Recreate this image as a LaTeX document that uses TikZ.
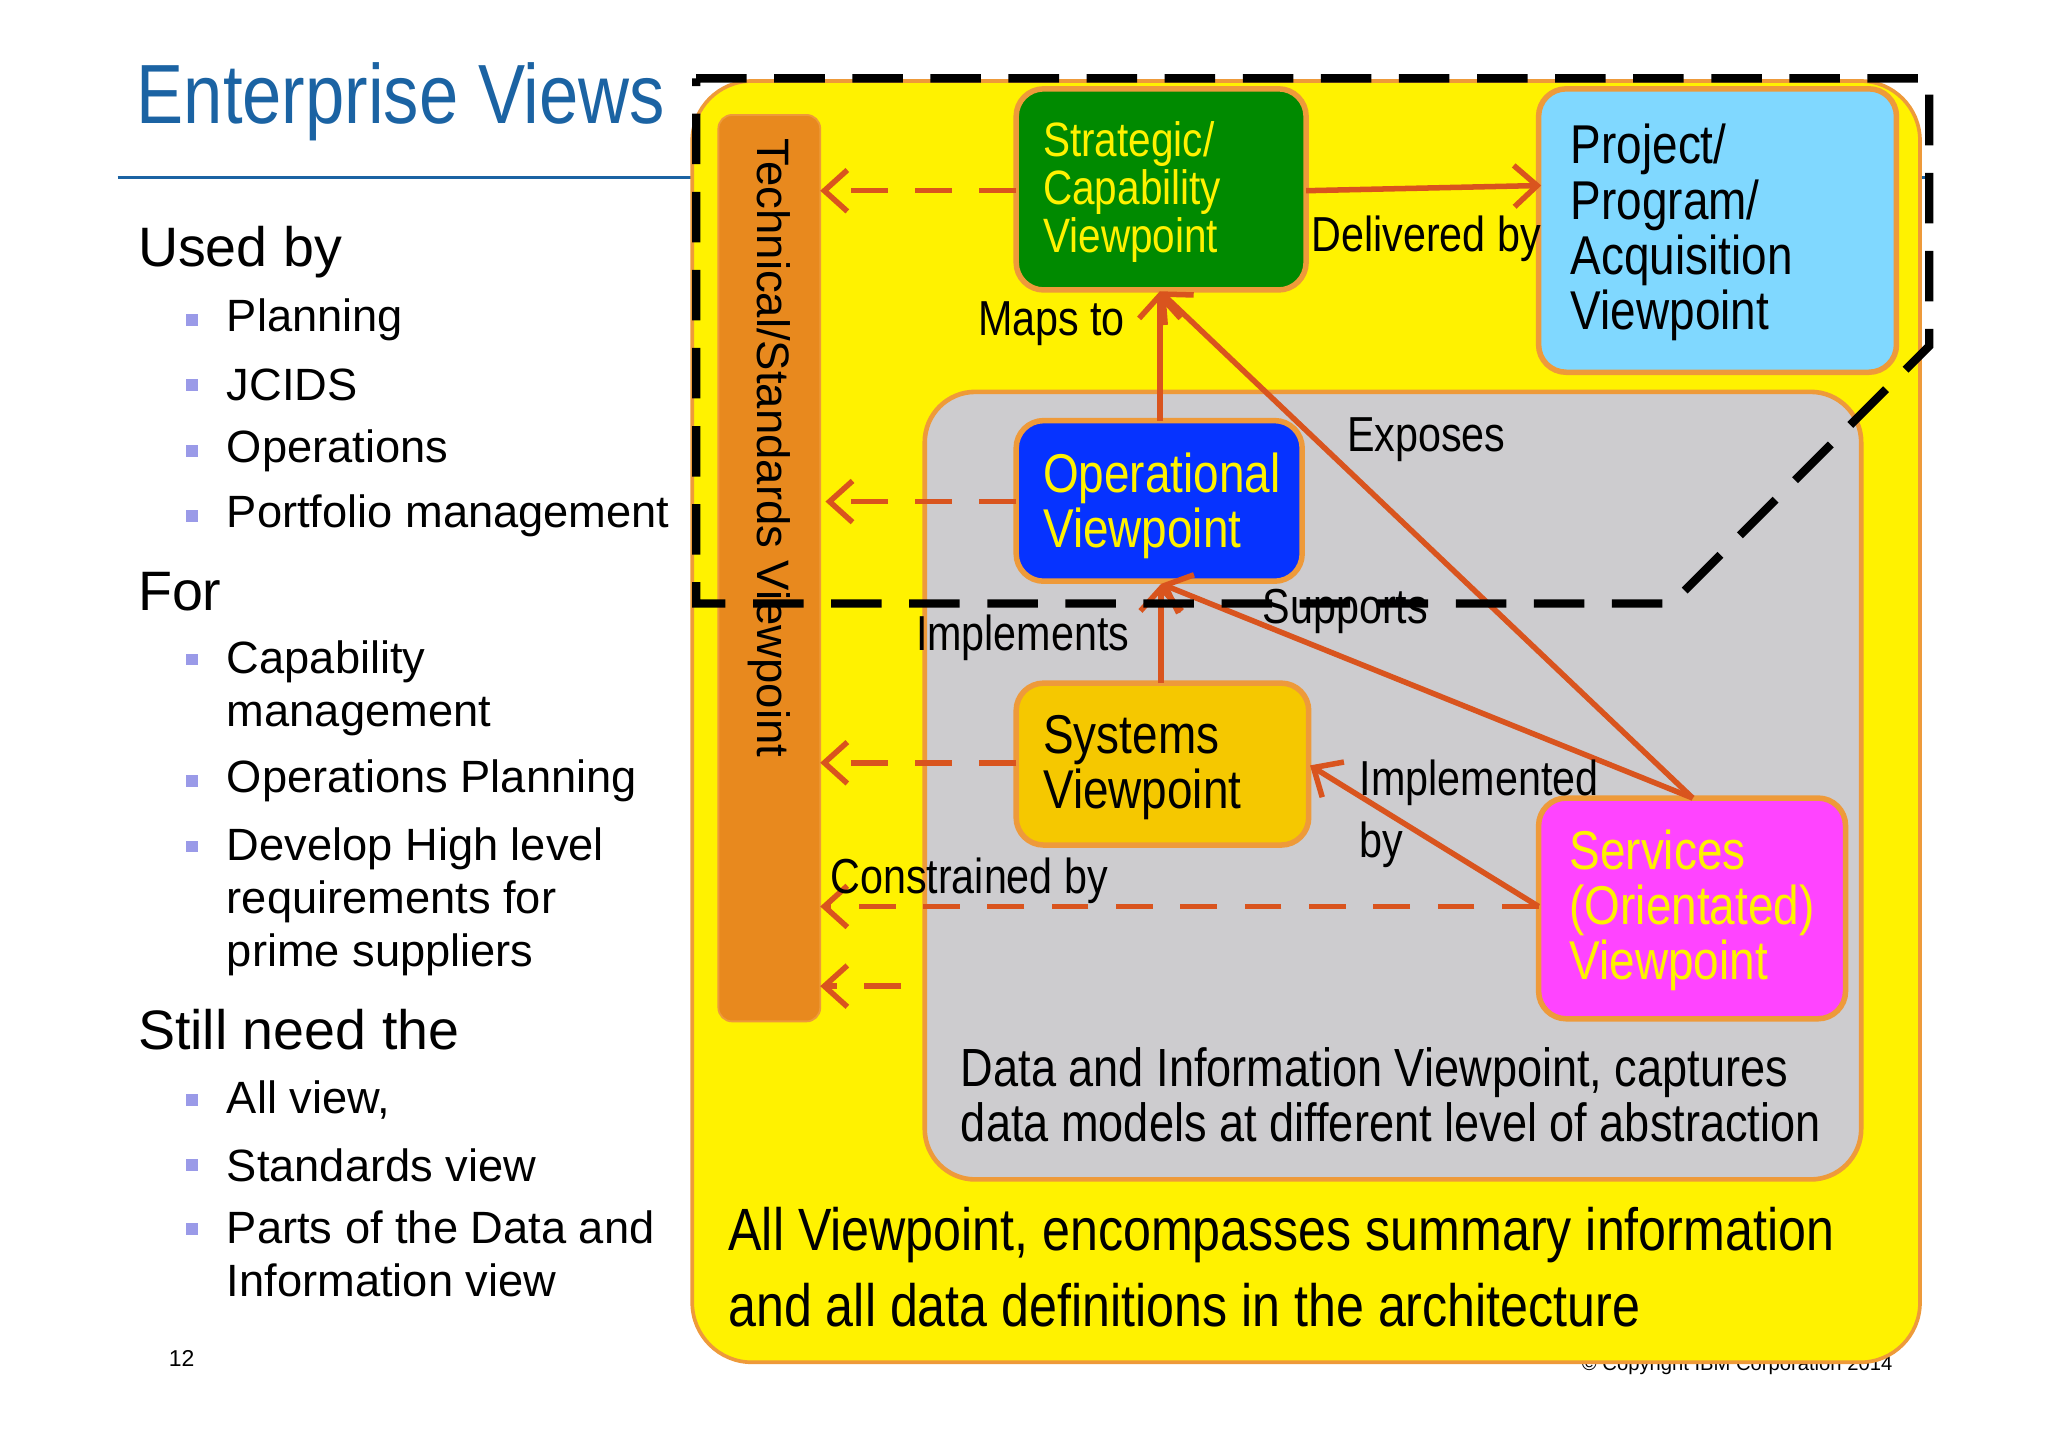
\documentclass[tikz,border=0pt]{standalone}
\usepackage{fontspec}
\setmainfont{Liberation Sans}
\newfontfamily\narrowf[FakeStretch=0.84]{Liberation Sans}
\usetikzlibrary{arrows.meta}
\definecolor{arr}{HTML}{D9541E}
\definecolor{bord}{HTML}{EE9A3A}
\definecolor{ttl}{HTML}{1B63A3}
\definecolor{bul}{HTML}{9A9AE8}
\definecolor{grayb}{HTML}{CDCCCF}
\definecolor{barc}{HTML}{E8891E}
\definecolor{grn}{HTML}{008A00}
\definecolor{lblue}{HTML}{80D8FF}
\definecolor{dblue}{HTML}{0633FF}
\definecolor{gold}{HTML}{F5C800}
\definecolor{mag}{HTML}{FF44FF}
\begin{document}
\begin{tikzpicture}[x=0.01cm,y=-0.01cm,
 box/.style={draw=bord,line width=1.2pt,rounded corners=6pt},
 btxt/.style={align=left,anchor=west,inner sep=0pt,font=\narrowf\fontsize{11.9}{12}\selectfont},
 lbl/.style={font=\narrowf\fontsize{10.7}{12}\selectfont,inner sep=1pt},
 li/.style={anchor=west,align=left,font=\fontsize{9.85}{12}\selectfont,inner sep=0pt},
 hd/.style={anchor=west,font=\fontsize{12.1}{14}\selectfont,inner sep=0pt},
 bu/.style={fill=bul,minimum size=0.09cm,inner sep=0pt},
 sa/.style={draw=arr,line width=1.2pt,-{Straight Barb[length=5pt,width=9pt]}},
 da/.style={sa,dash pattern=on 8pt off 6pt}]
\useasboundingbox (0,0) rectangle (1568,1108);
\fill[white] (0,0) rectangle (1568,1108);
% footer
\node[font=\fontsize{5}{6}\selectfont] (pg) at (139,1040) {12};
\node[font=\fontsize{4.4}{5}\selectfont] (cp) at (1330,1045) {© Copyright IBM Corporation 2014};
% title
\node[anchor=west,text=ttl,font=\narrowf\fontsize{18.3}{22}\selectfont,inner sep=0pt] (title) at (104,78) {Enterprise Views};
\draw[ttl,line width=0.5pt] (90,136) -- (530,136);
\draw[ttl,line width=0.5pt] (1470,136) -- (1480,136);
% list
\node[hd] (h1) at (105,193) {Used by};
\foreach \t/\y in {Planning/245,JCIDS/295,Operations/345,Portfolio management/395}{
 \node[bu] at (147,\y) {}; \node[li] at (173,\y) {\t};}
\node[hd] (h2) at (105,453) {For};
\node[bu] at (147,505) {}; \node[li,anchor=north west] at (173,490) {Capability\\[-0.5pt]management};
\node[bu] at (147,598) {}; \node[li] at (173,598) {Operations Planning};
\node[bu] at (147,648) {}; \node[li,anchor=north west] at (173,633) {Develop High level\\[-0.5pt]requirements for\\[-0.5pt]prime suppliers};
\node[hd] (h3) at (105,788) {Still need the};
\node[bu] at (147,842) {}; \node[li] at (173,842) {All view,};
\node[bu] at (147,892) {}; \node[li] at (173,892) {Standards view};
\node[bu] at (147,941) {}; \node[li,anchor=north west] at (173,926) {Parts of the Data and\\[-0.5pt]Information view};
% yellow area
\draw[draw=bord,fill=yellow,line width=0.8pt,rounded corners=13pt] (530,62) rectangle (1470,1043);
% bar
\draw[draw=bord,fill=barc,rounded corners=3pt] (550,88) rectangle (628,782);
\node[rotate=-90,font=\fontsize{9.9}{12}\selectfont] (bar) at (589,343) {Technical/Standards Viewpoint};
% gray
\draw[draw=bord,fill=grayb,line width=1pt,rounded corners=11pt] (708,300) rectangle (1425,903);
% boxes
\draw[box,fill=grn] (778,68) rectangle (1000,222);
\node[btxt,text=yellow,font=\narrowf\fontsize{10.5}{10.4}\selectfont] (st) at (798,147) {Strategic/\\Capability\\Viewpoint};
\draw[box,fill=lblue] (1178,68) rectangle (1452,285);
\node[btxt] (pr) at (1202,178) {Project/\\Program/\\Acquisition\\Viewpoint};
\draw[box,fill=dblue] (778,322) rectangle (997,445);
\node[btxt,text=yellow] (op) at (798,387) {Operational\\Viewpoint};
\draw[box,fill=gold] (778,523) rectangle (1002,647);
\node[btxt] (sy) at (798,588) {Systems\\Viewpoint};
\draw[box,fill=mag] (1178,611) rectangle (1413,780);
\node[btxt,text=yellow] (sv) at (1201,697) {Services\\(Orientated)\\Viewpoint};
% coordinates
\coordinate (stl) at (778,146); \coordinate (b1) at (628,146);
\coordinate (opl) at (778,384); \coordinate (b2) at (632,384);
\coordinate (syl) at (778,584); \coordinate (b3) at (628,584);
\coordinate (svl) at (1178,694); \coordinate (b4) at (628,694);
\coordinate (c5) at (690,755); \coordinate (b5) at (628,755);
\coordinate (str) at (1000,146); \coordinate (prl) at (1180,142);
\coordinate (stb) at (888,223); \coordinate (opt) at (888,322);
\coordinate (opb) at (889,447); \coordinate (syt) at (889,523);
\coordinate (svt) at (1296,611); \coordinate (syr) at (1003,586);
% arrows
\draw[da] (stl) -- (b1); \draw[da] (opl) -- (b2); \draw[da] (syl) -- (b3);
\draw[da] (svl) -- (b4); \draw[da] (c5) -- (b5);
\draw[sa] (str) -- (prl);
\draw[sa] (opt) -- (stb); \draw[sa] (syt) -- (opb);
\draw[sa] (svt) -- (stb); \draw[sa] (svt) -- (opb);
\draw[sa] (svl) -- (syr);
% dashed black polygon
\draw[black,line width=1.8pt,dash pattern=on 11pt off 6pt] (533,60) -- (1477,60) -- (1477,265) -- (1280,462) -- (533,462) -- cycle;
% labels
\node[lbl] at (1092,183) {Delivered by};
\node[lbl] at (805,248) {Maps to};
\node[lbl] at (1092,337) {Exposes};
\node[lbl] at (1030,468) {Supports};
\node[lbl] at (783,488) {Implements};
\node[lbl,anchor=west,align=left] at (1037,623) {Implemented\\[1.5pt]by};
\node[lbl] at (742,674) {Constrained by};
\node[anchor=west,align=left,font=\narrowf\fontsize{11.7}{12}\selectfont,inner sep=0pt] (dt) at (735,838) {Data and Information Viewpoint, captures\\data models at different level of abstraction};
\node[anchor=west,align=left,font=\narrowf\fontsize{13}{16.5}\selectfont,inner sep=0pt] (av) at (557,970) {All Viewpoint, encompasses summary information\\and all data definitions in the architecture};
\end{tikzpicture}
\end{document}
